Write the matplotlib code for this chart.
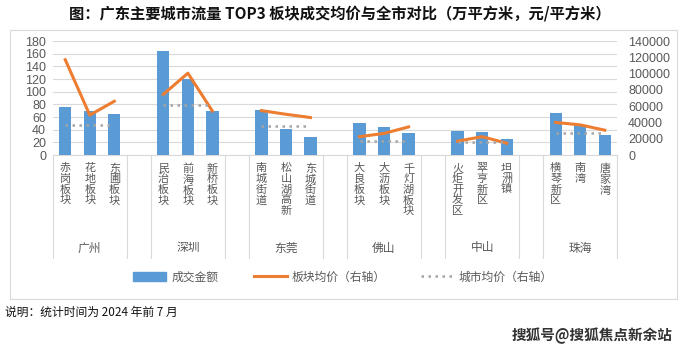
import matplotlib.pyplot as plt
import matplotlib.transforms as mtransforms
from matplotlib.patches import Patch, Rectangle
from matplotlib.lines import Line2D

plt.rcParams['font.family'] = ['Noto Sans CJK SC', 'DejaVu Sans']

# data
cities = ['广州', '深圳', '东莞', '佛山', '中山', '珠海']
blocks = [
    ['赤岗板块', '花地板块', '东圃板块'],
    ['民治板块', '前海板块', '新桥板块'],
    ['南城街道', '松山湖高新', '东城街道'],
    ['大良板块', '大沥板块', '千灯湖板块'],
    ['火炬开发区', '翠亨新区', '坦洲镇'],
    ['横琴新区', '南湾', '唐家湾'],
]
volume = [
    [76, 69, 65],
    [165, 120, 70],
    [71, 41, 29],
    [51, 44, 35],
    [38, 37, 25],
    [67, 48, 31],
]
block_price = [
    [117000, 49000, 66000],
    [74500, 100500, 54000],
    [54500, 50000, 46000],
    [22500, 26500, 34500],
    [17000, 22500, 14500],
    [40000, 37000, 30500],
]
city_price = [37000, 62000, 36000, 17000, 16000, 26500]

BLUE = '#5B9BD5'
ORANGE = '#ED7D31'
GRAY = '#A5A5A5'
TXT = '#595959'

W, H = 687, 358
fig = plt.figure(figsize=(W / 100, H / 100), dpi=100)

# outer frame
fig.patches.append(Rectangle((10 / W, 1 - 299 / H), 667 / W, 269 / H,
                             transform=fig.transFigure, fill=False,
                             edgecolor='#D9D9D9', linewidth=0.8))

ax = fig.add_axes([53 / W, 1 - 155 / H, (617 - 53) / W, (155 - 41) / H])
ax2 = ax.twinx()

positions = []
labels = []
for g in range(len(cities)):
    xs = [g * 4 + i for i in range(3)]
    positions += xs
    labels += ['\n'.join(b) for b in blocks[g]]
    ax.bar(xs, volume[g], width=0.5, color=BLUE, zorder=3)
    ax2.plot(xs, block_price[g], color=ORANGE, linewidth=2.2, zorder=4)
    ax2.plot([xs[0], xs[-1]], [city_price[g]] * 2, color=GRAY,
             linestyle=(0, (1, 1.8)), linewidth=1.8, zorder=4)

ax.set_xlim(-0.5, 22.5)
ax.set_ylim(0, 180)
ax.set_yticks(range(0, 181, 20))
ax2.set_ylim(0, 140000)
ax2.set_yticks(range(0, 140001, 20000))

ax.grid(axis='y', color='#D9D9D9', linewidth=0.8, zorder=0)
ax.set_axisbelow(True)
for a in (ax, ax2):
    for s in a.spines.values():
        s.set_visible(False)
ax.spines['bottom'].set_visible(True)
ax.spines['bottom'].set_color('#D9D9D9')
ax.tick_params(axis='y', length=0, labelsize=9, labelcolor=TXT, pad=5)
ax2.tick_params(axis='y', length=0, labelsize=9, labelcolor=TXT, pad=8)
for t in ax.get_yticklabels() + ax2.get_yticklabels():
    t.set_family(['Liberation Sans', 'DejaVu Sans'])

ax.set_xticks(positions)
ax.set_xticklabels(labels, fontsize=8, color=TXT, linespacing=1.05)
ax.tick_params(axis='x', length=0, pad=6)

# group brackets and city names
trans = mtransforms.blended_transform_factory(ax.transData, ax.transAxes)
depth = (258 - 155) / (155 - 41)
for g in range(len(cities)):
    for xb in (g * 4 - 0.5, g * 4 + 2.5):
        ax.plot([xb, xb], [0, -depth], transform=trans, color='#D9D9D9',
                linewidth=0.8, clip_on=False)
    ax.text(g * 4 + 1, -(248 - 155) / (155 - 41), cities[g], transform=trans,
            ha='center', va='center', fontsize=8.5, color=TXT)

handles = [Patch(color=BLUE),
           Line2D([], [], color=ORANGE, linewidth=2.2),
           Line2D([], [], color=GRAY, linewidth=1.8, linestyle=(0, (1, 1.8)))]
fig.legend(handles, ['成交金额', '板块均价（右轴）', '城市均价（右轴）'],
           loc='center', bbox_to_anchor=(343 / W, 1 - 277 / H), ncol=3,
           frameon=False, fontsize=8.5, handlelength=2.8, columnspacing=3.0,
           labelcolor=TXT, handletextpad=0.4)

fig.text(340 / W, 1 - 14 / H,
         '图：广东主要城市流量 TOP3 板块成交均价与全市对比（万平方米，元/平方米）',
         ha='center', va='center', fontsize=11, fontweight='bold', color='#111111')
fig.text(5 / W, 1 - 312 / H, '说明：统计时间为 2024 年前 7 月',
         ha='left', va='center', fontsize=8.5, color='#111111')
fig.text(673 / W, 1 - 336 / H, '搜狐号@搜狐焦点新余站',
         ha='right', va='center', fontsize=10.5, fontweight='bold', color='#333333')

fig.savefig('out.png', dpi=100)
